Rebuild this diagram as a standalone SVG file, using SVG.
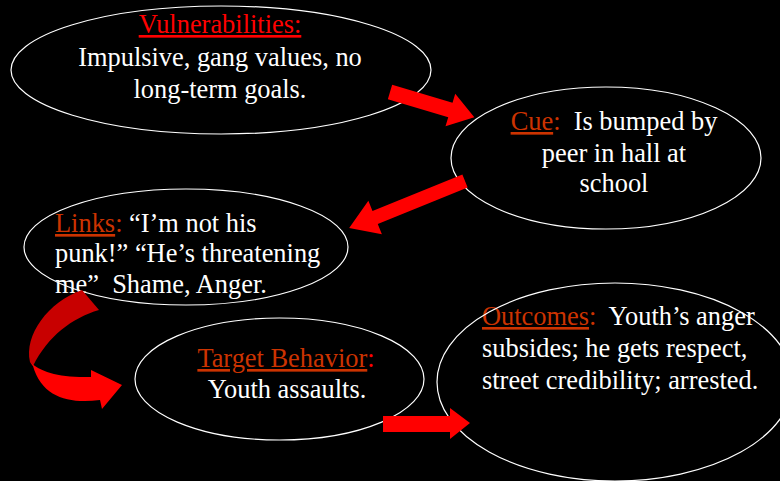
<svg xmlns="http://www.w3.org/2000/svg" width="780" height="481" viewBox="0 0 780 481">
<style>
.bg{fill:#000}
.node{fill:#000;stroke:#fff;stroke-width:1.2}
text{font-family:"Liberation Serif","Times New Roman",serif;font-size:26.4px;fill:#fff;white-space:pre}
.c{text-anchor:middle}
.lbl{fill:#CC3300}
.lbl2{fill:#FF0000}
.u{text-decoration:underline}
.arrow{fill:#FF0000}
.dark{fill:#C80000}
</style>
<rect class="bg" x="0" y="0" width="780" height="481"/>
<g id="vulnerabilities">
<ellipse class="node" cx="221" cy="70" rx="210" ry="64"/>
<text class="c" x="220" y="33"><tspan class="lbl2 u">Vulnerabilities:</tspan></text>
<text class="c" x="220" y="66">Impulsive, gang values, no</text>
<text class="c" x="220" y="98">long-term goals.</text>
</g>
<g id="cue">
<ellipse class="node" cx="606" cy="158" rx="155" ry="71"/>
<text class="c" x="614" y="130"><tspan class="lbl u">Cue</tspan><tspan class="lbl">:</tspan>  Is bumped by</text>
<text class="c" x="614" y="162">peer in hall at</text>
<text class="c" x="614" y="192">school</text>
</g>
<g id="links">
<ellipse class="node" cx="186" cy="247" rx="162" ry="58"/>
<text x="55" y="232"><tspan class="lbl u">Links</tspan><tspan class="lbl">:</tspan> “I’m not his</text>
<text x="55" y="262">punk!” “He’s threatening</text>
<text x="55" y="293">me”  Shame, Anger.</text>
</g>
<g id="target">
<ellipse class="node" cx="279.5" cy="379" rx="144.5" ry="61"/>
<text class="c" x="286" y="367"><tspan class="lbl u">Target Behavior</tspan><tspan class="lbl2">:</tspan></text>
<text class="c" x="287" y="398">Youth assaults.</text>
</g>
<g id="outcomes">
<text x="482" y="325"><tspan class="lbl u">Outcomes</tspan><tspan class="lbl">:</tspan>  Youth’s anger</text>
<text x="482" y="357">subsides; he gets respect,</text>
<text x="482" y="389">street credibility; arrested.</text>
<ellipse cx="615" cy="382" rx="178" ry="99" fill="none" stroke="#fff" stroke-width="1.2"/>
</g>
<g id="connectors">
<polygon class="arrow" transform="translate(390,92) rotate(16.6)" points="0,-7.5 63,-7.5 63,-17 88,0 63,17 63,7.5 0,7.5"/>
<polygon class="arrow" transform="translate(465,181) rotate(157.9)" points="0,-7 97,-7 97,-18 125,0 97,18 97,7 0,7"/>
<polygon class="arrow" points="383,416 450,416 450,408 470,423 450,439 450,432 383,432"/>
<path class="dark" d="M82,290 L99,310 C72,318 48,336 33,366 L30,362 C24,335 48,302 82,290 Z"/>
<path class="arrow" d="M30,362 C40,372 60,378 91,377 L91,370 L122,385 L102,409 L100,400 C70,404 42,398 33,366 Z"/>
</g>
</svg>
